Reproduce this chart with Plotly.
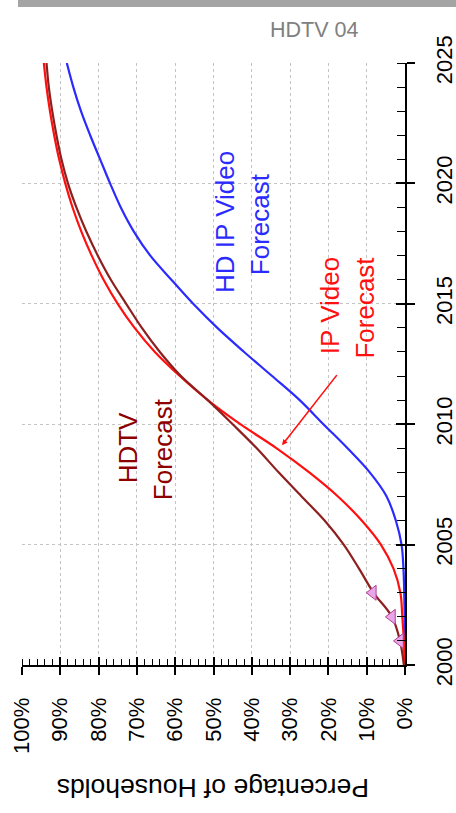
import plotly.graph_objects as go

years = list(range(2000, 2026))
hdtv = [0.3, 1.3, 3.4, 8.2, 12, 16, 21, 27, 33, 38.7, 45, 51.5, 58.5, 64, 68.7, 72.8, 76.8, 80.2, 83.2, 85.8, 88, 89.7, 91, 92.1, 93, 93.6]
ip_video = [0.1, 0.3, 0.7, 1.2, 3, 6.3, 11.3, 17.5, 25, 33.5, 43, 51.5, 58.8, 65.3, 70.6, 75, 78.7, 81.8, 84.5, 86.8, 88.7, 90.3, 91.6, 92.7, 93.6, 94.3]
hd_ip_video = [0, 0.05, 0.1, 0.2, 0.4, 0.9, 2.4, 4.8, 9.2, 15, 21.3, 27.5, 34.7, 42, 49, 55.3, 61, 66.5, 70.8, 74.2, 77, 79.6, 82.2, 84.6, 86.6, 88.3]
hist_years = [2001, 2002, 2003]
hist_hdtv = [1.3, 3.4, 8.4]
pct_ticks = list(range(0, 101, 10))
pct_labels = [f"{v}%" for v in pct_ticks]
year_ticks = [2000, 2005, 2010, 2015, 2020, 2025]

FONT = "Liberation Sans, Arial, sans-serif"
HDTV_C = "#8e1f1f"
IP_C = "#ff1010"
HDIP_C = "#2b2bff"

fig = go.Figure()
fig.add_trace(go.Scatter(x=hd_ip_video, y=years, mode="lines", line=dict(color=HDIP_C, width=2.2, shape="spline"), showlegend=False))
fig.add_trace(go.Scatter(x=ip_video, y=years, mode="lines", line=dict(color=IP_C, width=2.2, shape="spline"), showlegend=False))
fig.add_trace(go.Scatter(x=hdtv, y=years, mode="lines", line=dict(color=HDTV_C, width=2.2, shape="spline"), showlegend=False))
fig.add_trace(go.Scatter(x=hist_hdtv, y=hist_years, mode="markers",
                         marker=dict(symbol="triangle-left", size=13, color="#eaa6ea", line=dict(color="#b04090", width=1)),
                         showlegend=False))
fig.add_trace(go.Scatter(x=[None], y=[None], xaxis="x2", yaxis="y2", showlegend=False, hoverinfo="skip"))

grid = dict(showgrid=True, gridcolor="#c4c4c4", griddash="dot", gridwidth=1, zeroline=False, automargin=False)

fig.update_layout(
    width=456, height=813,
    margin=dict(l=22, r=51, t=63, b=148),
    paper_bgcolor="white", plot_bgcolor="white",
    font=dict(family=FONT, size=22, color="black"),
    xaxis=dict(range=[100, 0], tickvals=pct_ticks, ticktext=pct_labels, tickangle=-90,
               showline=True, linecolor="black", linewidth=2,
               ticks="outside", ticklen=8, tickwidth=1.5, tickcolor="black",
               minor=dict(dtick=2, ticks="inside", ticklen=6, tickwidth=1.2, tickcolor="black", showgrid=False),
               ticklabelstandoff=14, tickfont=dict(size=22), **grid),
    yaxis=dict(range=[2000, 2025], tickvals=year_ticks, side="right", tickangle=-90,
               showline=True, linecolor="black", linewidth=2,
               ticks="outside", ticklen=8, tickwidth=1.5, tickcolor="black",
               minor=dict(dtick=1, ticks="inside", ticklen=8, tickwidth=1.2, tickcolor="black", showgrid=False),
               ticklabelstandoff=11, tickfont=dict(size=22), **grid),
    xaxis2=dict(range=[100, 0], overlaying="x", anchor="y2", side="bottom", tickvals=pct_ticks,
                showticklabels=False, ticks="inside", ticklen=8, tickwidth=1.5, tickcolor="black",
                showgrid=False, zeroline=False, showline=False, automargin=False),
    yaxis2=dict(range=[2000, 2025], overlaying="y", anchor="x2", side="right", tickvals=year_ticks,
                showticklabels=False, ticks="inside", ticklen=9, tickwidth=1.5, tickcolor="black",
                showgrid=False, zeroline=False, showline=False, automargin=False),
)

fig.add_shape(type="rect", xref="paper", yref="paper", x0=-0.0104, x1=1.14, y0=1.093, y1=1.106,
              fillcolor="#a4a4a4", line=dict(width=0), layer="above")

ann = []
ann.append(dict(text="HDTV 04", xref="paper", yref="paper", x=0.762, y=1.055, xanchor="center", yanchor="middle",
                showarrow=False, font=dict(size=21.5, color="#808080")))
ann.append(dict(text="Percentage of Households", xref="paper", yref="paper", x=0.5, y=-0.204,
                xanchor="center", yanchor="middle",
                textangle=180, showarrow=False, font=dict(size=26.5, color="black")))
ann.append(dict(text="HD IP Video", x=47, y=2018.4, textangle=-90, showarrow=False, font=dict(size=26, color=HDIP_C)))
ann.append(dict(text="Forecast", x=37.9, y=2018.3, textangle=-90, showarrow=False, font=dict(size=26, color=HDIP_C)))
ann.append(dict(text="HDTV", x=72.3, y=2009.0, textangle=-90, showarrow=False, font=dict(size=26, color="#8e0000")))
ann.append(dict(text="Forecast", x=63.2, y=2008.96, textangle=-90, showarrow=False, font=dict(size=26, color="#8e0000")))
ann.append(dict(text="IP Video", x=19.6, y=2014.94, textangle=-90, showarrow=False, font=dict(size=26, color=IP_C)))
ann.append(dict(text="Forecast", x=10.4, y=2014.85, textangle=-90, showarrow=False, font=dict(size=26, color=IP_C)))
ann.append(dict(text="", x=32.1, y=2009.13, ax=17.5, ay=2012.1, axref="x", ayref="y",
                showarrow=True, arrowhead=2, arrowsize=0.7, arrowwidth=1.6, arrowcolor=IP_C))
fig.update_layout(annotations=ann)

fig.write_html("out.html", config={"displayModeBar": False},
               post_script="document.body.style.margin='0';document.body.style.overflow='hidden';")
